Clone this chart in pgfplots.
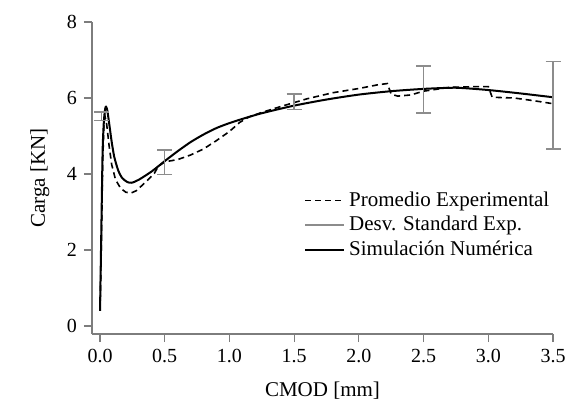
\documentclass[border=0pt]{standalone}
\usepackage{pgfplots}
\pgfplotsset{compat=1.18}
\usepackage{fontspec}
\setmainfont{Liberation Serif}
\definecolor{axgray}{RGB}{125,125,125}
\definecolor{errgray}{RGB}{140,140,140}

\begin{document}
\begin{tikzpicture}
\path[use as bounding box] (-46bp,-38bp) rectangle (238bp,167bp);
\begin{axis}[
    scale only axis,
    width=230.5bp,
    height=156bp,
    xmin=-0.062, xmax=3.5,
    ymin=-0.21, ymax=8,
    axis lines=left,
    axis line style={axgray, line width=0.6bp, -},
    tick style={axgray, line width=0.6bp},
    tick align=outside,
    major tick length=4bp,
    xtick={0,0.5,...,3.5},
    ytick={0,2,4,6,8},
    xticklabel style={/pgf/number format/.cd, fixed, fixed zerofill, precision=1},
    /pgf/number format/assume math mode=true,
    tick label style={font=\fontsize{10bp}{12bp}\selectfont, black},
    xlabel={CMOD [mm]},
    ylabel={Carga [KN]},
    label style={font=\fontsize{10.5bp}{12bp}\selectfont},
    xlabel style={at={(axis description cs:0.5,-0.18)}, anchor=center},
    ylabel style={at={(axis description cs:-0.113,0.5)}, anchor=center, rotate=0},
    legend style={at={(rel axis cs:0.4465,0.483)}, anchor=north west, draw=none, fill=none,
        font=\fontsize{10.5bp}{12.5bp}\selectfont, row sep=-0.5bp},
    legend cell align=left,
    legend image code/.code={\draw[#1] (0bp,0bp) -- (19.5bp,0bp);},
    clip=false,
]

% Promedio Experimental
\addplot[black, line width=0.8bp, dash pattern=on 3bp off 2bp] coordinates {
    (0.000,0.40) (0.010,2.00) (0.020,4.20) (0.030,5.30) (0.040,5.50)
    (0.050,5.35) (0.070,4.75) (0.090,4.25) (0.120,3.85) (0.160,3.62)
    (0.200,3.52) (0.240,3.50) (0.280,3.56) (0.350,3.78) (0.420,4.02)
    (0.450,4.20) (0.500,4.32) (0.550,4.35) (0.600,4.38) (0.700,4.50)
    (0.800,4.66) (0.900,4.88) (1.000,5.12) (1.080,5.36) (1.150,5.50)
    (1.250,5.62) (1.400,5.78) (1.500,5.88) (1.600,5.98) (1.800,6.14)
    (2.000,6.25) (2.150,6.35) (2.220,6.38) (2.250,6.10) (2.300,6.05)
    (2.400,6.08) (2.500,6.18) (2.700,6.28) (2.900,6.30) (3.000,6.30)
    (3.030,6.02) (3.200,6.00) (3.350,5.93) (3.500,5.85)
};
\addlegendentry{Promedio Experimental}

\addlegendimage{errgray, line width=0.75bp}
\addlegendentry{Desv. Standard Exp.}

% Simulacion Numerica
\addplot[black, line width=1bp, smooth, tension=0.4] coordinates {
    (0.000,0.40) (0.010,2.50) (0.020,4.60) (0.030,5.40) (0.040,5.72)
    (0.046,5.77) (0.055,5.70) (0.070,5.35) (0.090,4.85) (0.110,4.45)
    (0.140,4.10) (0.170,3.90) (0.210,3.79) (0.245,3.77) (0.300,3.85)
    (0.400,4.07) (0.500,4.34) (0.600,4.60) (0.700,4.84) (0.800,5.04)
    (0.900,5.21) (1.000,5.34) (1.100,5.45) (1.250,5.60) (1.500,5.80)
    (1.750,5.96) (2.000,6.09) (2.250,6.18) (2.500,6.24) (2.750,6.27)
    (3.000,6.21) (3.250,6.12) (3.500,6.02)
};
\addlegendentry{Simulación Numérica}

% error bars
\addplot[forget plot, draw=none, mark=none,
    error bars/.cd, y dir=both, y explicit,
    error bar style={errgray, line width=0.75bp},
    error mark options={errgray, line width=0.75bp, mark size=3.75bp, rotate=90}]
coordinates {
    (0.013,5.52) +- (0,0.11)
    (0.5,4.31) +- (0,0.32)
    (1.5,5.90) +- (0,0.20)
    (2.5,6.22) +- (0,0.62)
    (3.5,5.81) +- (0,1.15)
};

\end{axis}
\end{tikzpicture}
\end{document}
